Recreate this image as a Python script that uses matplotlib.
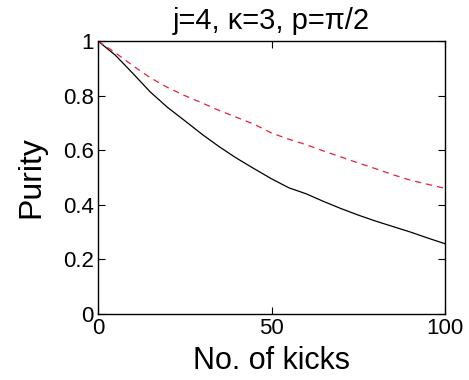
import numpy as np
import matplotlib.pyplot as plt

plt.rcParams['font.family'] = ['Liberation Sans', 'DejaVu Sans']

# number of kicks
kicks = [0, 5, 10, 15, 20, 25, 30, 35, 40, 45, 50,
         55, 60, 65, 70, 75, 80, 85, 90, 95, 100]
# purity, solid black curve
purity_solid = [1.0, 0.948, 0.882, 0.814, 0.757, 0.708, 0.658, 0.612, 0.57, 0.532, 0.495,
                0.462, 0.44, 0.412, 0.386, 0.362, 0.34, 0.32, 0.30, 0.278, 0.257]
# purity, dashed red curve
purity_dashed = [1.0, 0.957, 0.91, 0.866, 0.83, 0.80, 0.773, 0.745, 0.72, 0.695, 0.663,
                 0.64, 0.62, 0.597, 0.575, 0.553, 0.532, 0.51, 0.49, 0.475, 0.46]

fig = plt.figure(figsize=(4.69, 3.80), dpi=100)
ax = fig.add_axes([0.209, 0.174, 0.740, 0.718])

ax.plot(kicks, purity_solid, color='black', lw=0.9)
ax.plot(kicks, purity_dashed, color='#e8203c', lw=0.9, ls=(0, (5, 4)))

ax.set_xlim(0, 100)
ax.set_ylim(0, 1)
ax.set_xticks([0, 50, 100])
ax.set_yticks([0, 0.2, 0.4, 0.6, 0.8, 1])
ax.set_yticklabels(['0', '0.2', '0.4', '0.6', '0.8', '1'])
ax.tick_params(direction='in', length=5, width=0.8, labelsize=16,
               top=True, right=True, pad=3)
for s in ax.spines.values():
    s.set_linewidth(1.0)

ax.set_xlabel('No. of kicks', fontsize=22, labelpad=5)
ax.set_ylabel('Purity', fontsize=23, labelpad=12)
ax.set_title('j=4, κ=3, p=π/2', fontsize=21, pad=9)

fig.savefig('out.png', dpi=100)
